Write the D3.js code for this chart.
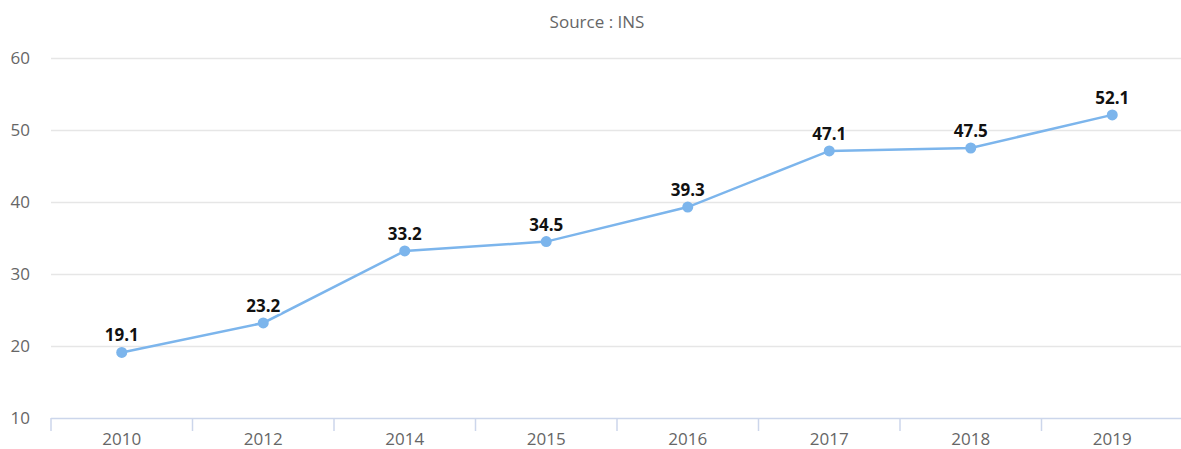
<!DOCTYPE html>
<html>
<head>
<meta charset="utf-8">
<script src="https://cdn.jsdelivr.net/npm/d3@7"></script>
<style>
  body { margin: 0; background: #fff; }
  svg { display: block; font-family: "Open Sans", "DejaVu Sans", sans-serif; }
</style>
</head>
<body>
<div class="container"></div>
<script>
var years = ['2010', '2012', '2014', '2015', '2016', '2017', '2018', '2019'];
var values = [19.1, 23.2, 33.2, 34.5, 39.3, 47.1, 47.5, 52.1];
var yTicks = [10, 20, 30, 40, 50, 60];
var title = 'Source : INS';

const WIDTH = 1181;
const HEIGHT = 449;
const LEFT = 51;
const RIGHT = 1183;
const TOP = 58;
const BOTTOM = 418;

var svg = d3.select('.container').append('svg')
  .attr('width', WIDTH)
  .attr('height', HEIGHT);

var xScale = d3.scaleBand().domain(years).range([LEFT, RIGHT]);
var yScale = d3.scaleLinear().domain([10, 60]).range([BOTTOM, TOP]);

svg.append('text')
  .attr('x', 597)
  .attr('y', 28)
  .attr('text-anchor', 'middle')
  .attr('fill', '#666')
  .attr('font-size', 17)
  .text(title);

// grid
svg.append('g').selectAll('line')
  .data(yTicks.filter(function(d) { return d > 10; }))
  .enter().append('line')
  .attr('x1', LEFT).attr('x2', RIGHT)
  .attr('y1', function(d) { return Math.round(yScale(d)) + 0.5; })
  .attr('y2', function(d) { return Math.round(yScale(d)) + 0.5; })
  .attr('stroke', '#e6e6e6')
  .attr('stroke-width', 1.5);

// y labels
svg.append('g').selectAll('text')
  .data(yTicks)
  .enter().append('text')
  .attr('x', 30)
  .attr('y', function(d) { return yScale(d) + 6; })
  .attr('text-anchor', 'end')
  .attr('fill', '#666')
  .attr('font-size', 17)
  .text(function(d) { return d; });

// x axis
var xAxis = d3.axisBottom(xScale).tickSize(0).tickPadding(15);
var gx = svg.append('g')
  .attr('transform', 'translate(0,' + BOTTOM + ')')
  .call(xAxis);
gx.select('.domain').remove();
gx.selectAll('text').attr('fill', '#666').attr('font-size', 17)
  .attr('font-family', '"Open Sans", "DejaVu Sans", sans-serif');

svg.append('line')
  .attr('x1', LEFT).attr('x2', RIGHT)
  .attr('y1', BOTTOM + 0.5).attr('y2', BOTTOM + 0.5)
  .attr('stroke', '#ccd6eb').attr('stroke-width', 1.5);

var bounds = years.map(function(d) { return xScale(d); }).concat([RIGHT]);
svg.append('g').selectAll('line')
  .data(bounds)
  .enter().append('line')
  .attr('x1', function(d) { return d; })
  .attr('x2', function(d) { return d; })
  .attr('y1', BOTTOM).attr('y2', BOTTOM + 13)
  .attr('stroke', '#ccd6eb').attr('stroke-width', 1.5);

var cx = function(i) { return xScale(years[i]) + xScale.bandwidth() / 2; };

var line = d3.line()
  .x(function(d, i) { return cx(i); })
  .y(function(d) { return yScale(d); });

svg.append('path')
  .datum(values)
  .attr('d', line)
  .attr('fill', 'none')
  .attr('stroke', '#7cb5ec')
  .attr('stroke-width', 2.5);

svg.append('g').selectAll('circle')
  .data(values)
  .enter().append('circle')
  .attr('cx', function(d, i) { return cx(i); })
  .attr('cy', function(d) { return yScale(d); })
  .attr('r', 5.5)
  .attr('fill', '#7cb5ec');

svg.append('g').selectAll('text')
  .data(values)
  .enter().append('text')
  .attr('x', function(d, i) { return cx(i); })
  .attr('y', function(d) { return yScale(d) - 11; })
  .attr('text-anchor', 'middle')
  .attr('font-size', 17)
  .attr('font-weight', 'bold')
  .attr('fill', '#111')
  .attr('stroke', '#fff')
  .attr('stroke-width', 3)
  .attr('paint-order', 'stroke')
  .attr('stroke-linejoin', 'round')
  .text(function(d) { return d.toFixed(1); });
</script>
</body>
</html>
